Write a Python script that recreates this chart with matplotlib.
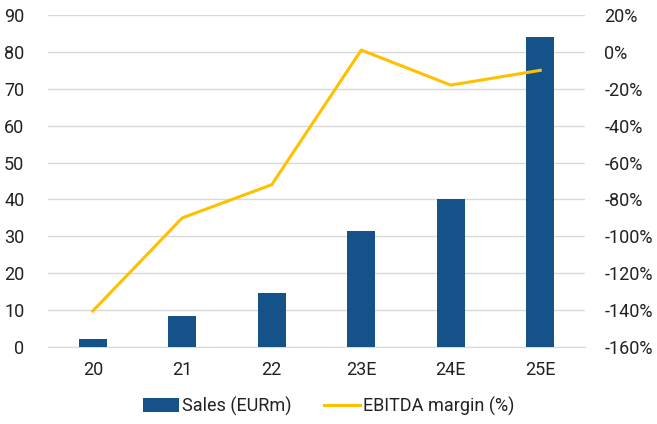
import matplotlib
matplotlib.use("Agg")
import matplotlib.pyplot as plt
from matplotlib.ticker import FuncFormatter

plt.rcParams['font.family'] = ['Roboto', 'DejaVu Sans']

categories = ["20", "21", "22", "23E", "24E", "25E"]
sales = [2.2, 8.4, 14.6, 31.4, 40.0, 84.0]
ebitda_margin = [-140.5, -90, -72, 1, -18, -10]

bar_color = "#16528A"
line_color = "#FFC000"
text_color = "#222222"

fig = plt.figure(figsize=(6.57, 4.24), dpi=100)
ax = fig.add_axes([48/657, 1-347/424, (585-48)/657, (347-15)/424])
ax2 = ax.twinx()

x = range(len(categories))
ax.bar(x, sales, width=0.31, color=bar_color, zorder=3, label="Sales (EURm)")
ax2.plot(x, ebitda_margin, color=line_color, lw=2.2, zorder=4, label="EBITDA margin (%)")

ax.set_xlim(-0.5, 5.5)
ax.set_ylim(0, 90)
ax.set_yticks(range(0, 91, 10))
ax2.set_ylim(-160, 20)
ax2.set_yticks(range(-160, 21, 20))
ax2.yaxis.set_major_formatter(FuncFormatter(lambda v, p: f"{int(v)}%"))

ax.set_xticks(list(x))
ax.set_xticklabels(categories)
ax.grid(axis="y", color="#d9d9d9", lw=1, zorder=0)
ax.set_axisbelow(True)

for a in (ax, ax2):
    for s in a.spines.values():
        s.set_visible(False)
    a.tick_params(length=0, labelsize=13, colors=text_color)
ax.tick_params(axis="y", pad=17)
ax2.tick_params(axis="y", pad=14)
ax.tick_params(axis="x", pad=10)
ax.spines["bottom"].set_visible(True)
ax.spines["bottom"].set_color("#d9d9d9")

h1, l1 = ax.get_legend_handles_labels()
h2, l2 = ax2.get_legend_handles_labels()
fig.legend(h1 + h2, l1 + l2, loc="center", bbox_to_anchor=(0.5, 1-406/424), ncol=2,
           frameon=False, fontsize=13, handlelength=2.0, handleheight=0.75,
           handletextpad=0.15, columnspacing=1.8, labelcolor=text_color)

fig.savefig("out.png", dpi=100)
